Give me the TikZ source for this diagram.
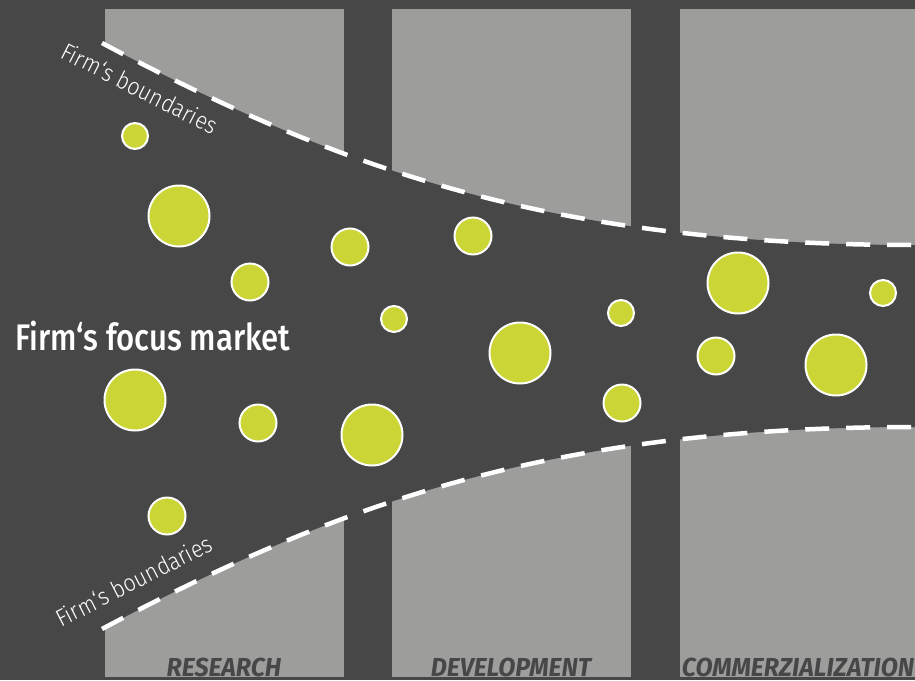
\documentclass[tikz,border=0pt]{standalone}
\usepackage{fontspec}
\setmainfont{Fira Sans}
\newfontfamily\boundfont[FakeStretch=0.9]{Fira Sans Light}
\newfontfamily\focusfont[FakeStretch=0.84]{Fira Sans Medium}
\newfontfamily\phasefont[FakeStretch=0.96]{Fira Sans}
\definecolor{bgdark}{HTML}{474747}
\definecolor{colgray}{HTML}{9D9D9C}
\definecolor{lime}{HTML}{CBD636}
\tikzset{
  phasecol/.style={fill=colgray, draw=none},
  bubble/.style={circle, fill=lime, draw=white, line width=2pt, inner sep=0pt},
  bsmall/.style={bubble, minimum size=26pt},
  bmid/.style={bubble, minimum size=37pt},
  blarge/.style={bubble, minimum size=61pt},
  boundary/.style={draw=white, line width=4.5pt, dash pattern=on 24pt off 17pt},
  boundlabel/.style={text=white, font=\boundfont\fontsize{24}{28}\selectfont, inner sep=0pt},
  phaselabel/.style={text=bgdark, font=\phasefont\bfseries\itshape\fontsize{26}{30}\selectfont, inner sep=0pt, anchor=base}
}
\begin{document}
\begin{tikzpicture}[x=1pt, y=-1pt]
  % canvas
  \fill[bgdark] (0,0) rectangle (915,680);
  \useasboundingbox (0,0) rectangle (915,680);

  % the three phase columns
  \fill[phasecol] (105,9) rectangle (344,677);
  \fill[phasecol] (392,9) rectangle (631,677);
  \fill[phasecol] (680,9) rectangle (915,677);

  % the funnel between the firm's boundaries
  \coordinate (ua) at (102,43);
  \coordinate (ub) at (915,245);
  \coordinate (la) at (102,629);
  \coordinate (lb) at (915,427);
  \fill[bgdark] (ua) .. controls (352,176) and (565,245) .. (ub)
    -- (lb) .. controls (565,427) and (352,496) .. (la) -- cycle;
  \draw[boundary] (ua) .. controls (352,176) and (565,245) .. (ub);
  \draw[boundary] (la) .. controls (352,496) and (565,427) .. (lb);

  % labels of the boundaries
  \node[boundlabel, anchor=base west, rotate=-27] (ublabel) at (59,57) {Firm‘s boundaries};
  \node[boundlabel, anchor=base west, rotate=27] (lblabel) at (61,628) {Firm‘s boundaries};

  % market label
  \node[text=white, font=\focusfont\fontsize{37}{42}\selectfont, inner sep=0pt, anchor=base west]
    (focus) at (15,350) {Firm‘s focus market};

  % opportunities
  \node[bsmall] (c1)  at (135,136) {};
  \node[blarge] (c2)  at (179,216) {};
  \node[bmid]   (c3)  at (250,282) {};
  \node[bmid]   (c4)  at (350,247) {};
  \node[bsmall] (c5)  at (394,319) {};
  \node[bmid]   (c6)  at (473,236) {};
  \node[blarge] (c7)  at (520,353) {};
  \node[bsmall] (c8)  at (621,313) {};
  \node[bmid]   (c9)  at (622,403) {};
  \node[blarge] (c10) at (738,283) {};
  \node[bmid]   (c11) at (716,356) {};
  \node[bsmall] (c12) at (883,293) {};
  \node[blarge] (c13) at (836,365) {};
  \node[blarge] (c14) at (135,400) {};
  \node[bmid]   (c15) at (258,423) {};
  \node[blarge] (c16) at (372,435) {};
  \node[bmid]   (c17) at (167,516) {};

  % phase names
  \node[phaselabel] (research) at (224,676) {RESEARCH};
  \node[phaselabel] (develop)  at (511,676) {DEVELOPMENT};
  \node[phaselabel] (commerz)  at (798,676) {COMMERZIALIZATION};
\end{tikzpicture}
\end{document}
